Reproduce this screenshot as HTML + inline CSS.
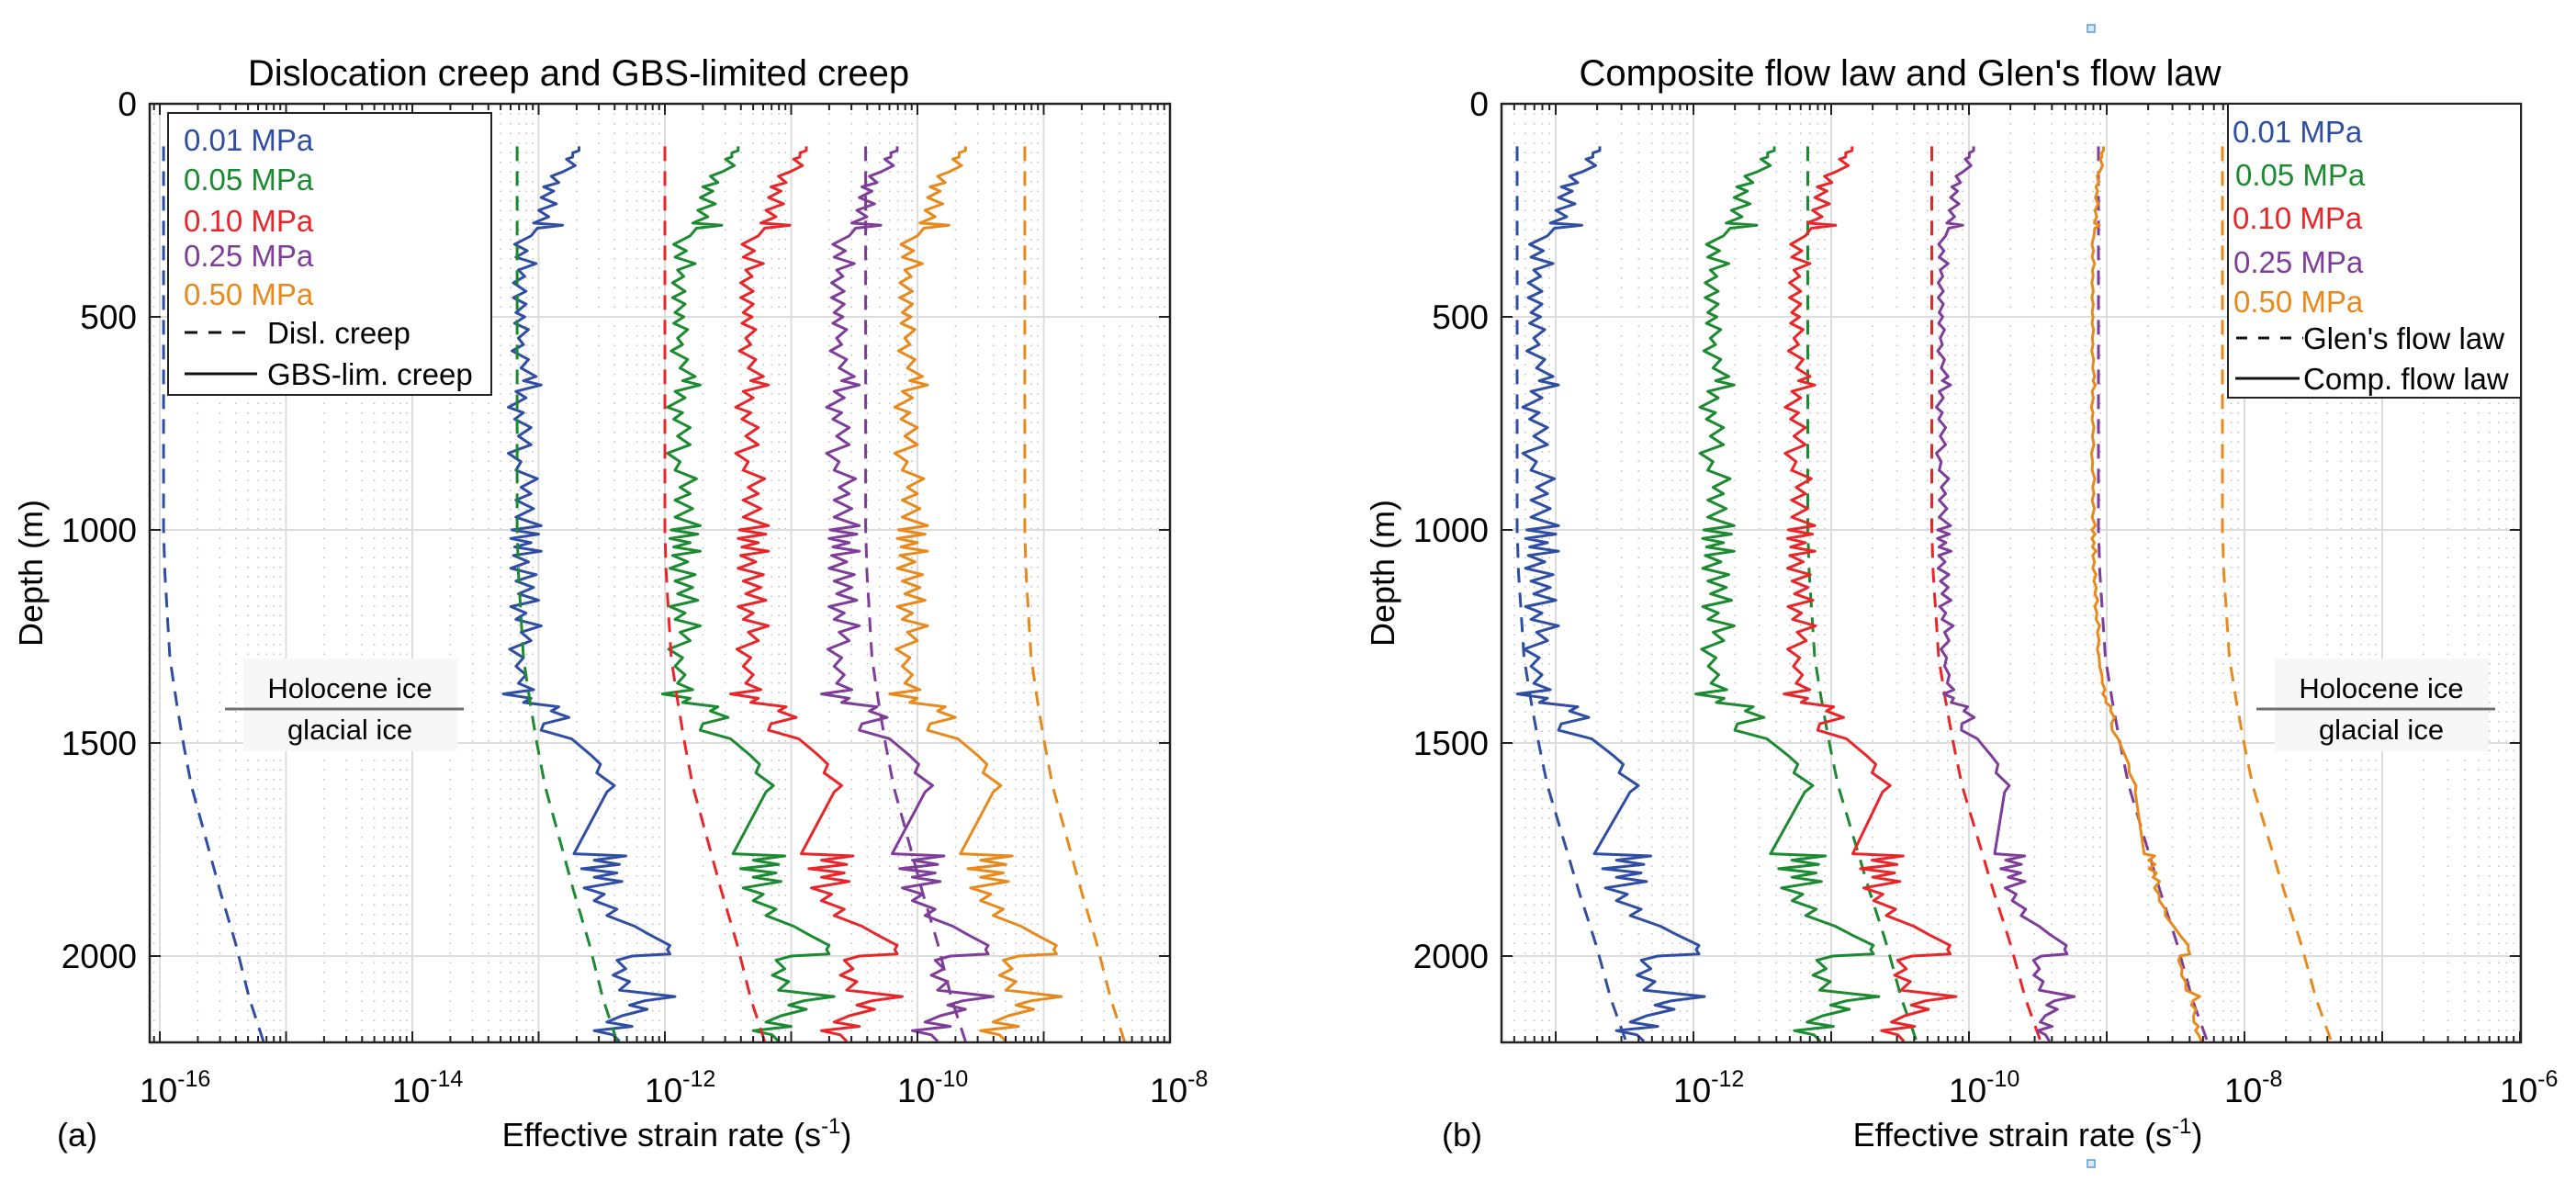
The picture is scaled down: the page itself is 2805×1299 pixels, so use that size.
<!DOCTYPE html>
<html><head><meta charset="utf-8">
<style>
html,body{margin:0;padding:0;background:#fff;}
svg{display:block;font-family:"Liberation Sans",Arial,sans-serif;}
</style></head>
<body>
<svg id="fig" width="2805" height="1299" viewBox="0 0 2805 1299" xmlns="http://www.w3.org/2000/svg">
<defs>
<clipPath id="clipA"><rect x="163" y="113" width="1111" height="1022"/></clipPath>
<clipPath id="clipB"><rect x="1635" y="113" width="1110" height="1022"/></clipPath>
</defs>
<rect x="0" y="0" width="2805" height="1299" fill="#fff"/>
<g id="gridA"></g>
<g id="gridB"></g>
<g id="dataA" clip-path="url(#clipA)"></g>
<g id="dataB" clip-path="url(#clipB)"></g>
<g id="axesA"></g>
<g id="axesB"></g>

<text x="630" y="93" font-size="40" text-anchor="middle">Dislocation creep and GBS-limited creep</text>
<text x="2069" y="93" font-size="40" text-anchor="middle">Composite flow law and Glen's flow law</text>

<text transform="translate(46,624) rotate(-90)" font-size="36" text-anchor="middle">Depth (m)</text>
<text transform="translate(1518,624) rotate(-90)" font-size="36" text-anchor="middle">Depth (m)</text>

<text x="737" y="1248" font-size="36" text-anchor="middle">Effective strain rate (s<tspan dy="-14" font-size="24">-1</tspan><tspan dy="14">)</tspan></text>
<text x="2208" y="1248" font-size="36" text-anchor="middle">Effective strain rate (s<tspan dy="-14" font-size="24">-1</tspan><tspan dy="14">)</tspan></text>
<text x="62" y="1248" font-size="36">(a)</text>
<text x="1570" y="1248" font-size="36">(b)</text>

<g>
<rect x="265" y="717" width="233" height="101" fill="#f7f7f7"/>
<line x1="245" y1="772" x2="505" y2="772" stroke="#707070" stroke-width="3"/>
<text x="381" y="760" font-size="31" text-anchor="middle">Holocene ice</text>
<text x="381" y="805" font-size="31" text-anchor="middle">glacial ice</text>
</g>
<g>
<rect x="2477" y="717" width="233" height="101" fill="#f7f7f7"/>
<line x1="2457" y1="772" x2="2717" y2="772" stroke="#707070" stroke-width="3"/>
<text x="2593" y="760" font-size="31" text-anchor="middle">Holocene ice</text>
<text x="2593" y="805" font-size="31" text-anchor="middle">glacial ice</text>
</g>

<g>
<rect x="183" y="123" width="352" height="307" fill="#fff" stroke="#222" stroke-width="2"/>
<text x="200" y="164" font-size="33" fill="#2e4da3">0.01 MPa</text>
<text x="200" y="207" font-size="33" fill="#1b8a30">0.05 MPa</text>
<text x="200" y="252" font-size="33" fill="#e8262a">0.10 MPa</text>
<text x="200" y="290" font-size="33" fill="#7e3d98">0.25 MPa</text>
<text x="200" y="332" font-size="33" fill="#e8891b">0.50 MPa</text>
<line x1="201" y1="362" x2="278" y2="362" stroke="#111" stroke-width="3" stroke-dasharray="14 12"/>
<text x="291" y="374" font-size="33">Disl. creep</text>
<line x1="201" y1="407" x2="280" y2="407" stroke="#111" stroke-width="3"/>
<text x="291" y="419" font-size="33">GBS-lim. creep</text>
</g>
<g>
<rect x="2426" y="113" width="319" height="320" fill="#fff" stroke="#222" stroke-width="2"/>
<text x="2431" y="155" font-size="33" fill="#2e4da3">0.01 MPa</text>
<text x="2434" y="202" font-size="33" fill="#1b8a30">0.05 MPa</text>
<text x="2431" y="249" font-size="33" fill="#e8262a">0.10 MPa</text>
<text x="2432" y="297" font-size="33" fill="#7e3d98">0.25 MPa</text>
<text x="2432" y="340" font-size="33" fill="#e8891b">0.50 MPa</text>
<line x1="2435" y1="368" x2="2508" y2="368" stroke="#111" stroke-width="3" stroke-dasharray="12 12"/>
<text x="2508" y="380" font-size="33">Glen's flow law</text>
<line x1="2434" y1="412" x2="2504" y2="412" stroke="#111" stroke-width="3"/>
<text x="2508" y="424" font-size="33">Comp. flow law</text>
</g>
<rect x="2273" y="27" width="8" height="8" fill="#dbe9f7" stroke="#5b9bd5" stroke-width="1.5"/>
<rect x="2273" y="1263" width="8" height="8" fill="#dbe9f7" stroke="#5b9bd5" stroke-width="1.5"/>
</svg>
<script>
// ---- data (log10 of effective strain rate, s^-1) ----
const stressLevels = ['0.01 MPa','0.05 MPa','0.10 MPa','0.25 MPa','0.50 MPa'];
const seriesColors = ['#2e4da3','#1b8a30','#e8262a','#7e3d98','#e8891b'];
// GBS-limited creep profile for 0.05 MPa (panel a, green)
const gbsDepth = [100,110,115,125,130,145,160,170,185,195,205,220,235,250,265,280,285,292,310,330,345,360,375,390,405,420,440,455,470,490,500,515,530,550,565,580,600,620,640,650,660,675,690,712,725,740,760,780,800,820,840,860,880,900,915,930,950,970,990,1000,1010,1020,1030,1040,1050,1060,1075,1090,1105,1120,1135,1150,1165,1180,1195,1210,1225,1240,1260,1280,1300,1320,1340,1360,1375,1385,1395,1405,1415,1425,1440,1455,1470,1490,1510,1530,1550,1570,1600,1615,1760,1765,1775,1785,1795,1805,1815,1825,1840,1855,1870,1890,1905,1930,1950,1975,1985,1995,2000,2010,2030,2045,2060,2080,2095,2105,2115,2125,2140,2155,2165,2175,2185,2200];
const gbsBase = [-11.42,-11.42,-11.47,-11.47,-11.52,-11.45,-11.55,-11.64,-11.58,-11.70,-11.62,-11.72,-11.60,-11.74,-11.66,-11.78,-11.55,-11.75,-11.80,-11.93,-11.83,-11.92,-11.76,-11.90,-11.85,-11.94,-11.84,-11.94,-11.84,-11.92,-11.85,-11.93,-11.82,-11.90,-11.86,-11.95,-11.82,-11.88,-11.76,-11.86,-11.72,-11.92,-11.84,-11.98,-11.86,-11.93,-11.80,-11.90,-11.80,-11.98,-11.88,-11.92,-11.75,-11.88,-11.80,-11.92,-11.78,-11.92,-11.72,-11.95,-11.74,-11.96,-11.80,-11.93,-11.72,-11.94,-11.82,-11.96,-11.76,-11.92,-11.78,-11.90,-11.74,-11.96,-11.84,-11.92,-11.72,-11.88,-11.80,-11.97,-11.86,-11.92,-11.84,-11.90,-11.78,-12.02,-11.80,-11.86,-11.58,-11.64,-11.50,-11.70,-11.72,-11.48,-11.40,-11.32,-11.25,-11.28,-11.14,-11.20,-11.46,-11.05,-11.30,-11.10,-11.40,-11.12,-11.30,-11.08,-11.38,-11.22,-11.30,-11.12,-11.20,-10.98,-10.86,-10.70,-10.72,-10.70,-11.00,-11.12,-11.05,-11.15,-11.02,-11.10,-10.66,-10.90,-11.02,-10.88,-11.08,-11.20,-11.00,-11.30,-11.15,-11.10];
const gbsShift = [-1.26,0,0.54,1.26,1.80];
// dislocation creep (panel a) and Glen's law (panel b): value at top + depth trend
const dislTop = [-15.97,-13.17,-12.0,-10.41,-9.15];
const glenTop = [-13.28,-11.17,-10.27,-9.06,-8.16];
const trendDepth = [100,1000,1100,1300,1400,1490,1600,1730,1850,1970,2100,2200];
const trendOffset = [0,0,0.01,0.05,0.10,0.15,0.22,0.34,0.45,0.57,0.68,0.79];
// ticks
const depthTicks = [0,500,1000,1500,2000];
const xTickExpA = [-16,-14,-12,-10,-8];
const xTickExpB = [-12,-10,-8,-6];

// ---- axis functions ----
const yD = d => 113 + d*0.464;
const xA = v => 174 + (v+16)*137.5;
const xB = v => 1844 + (v+12)*150;
const NS='http://www.w3.org/2000/svg';
function mk(tag, attrs, parent){const e=document.createElementNS(NS,tag);for(const k in attrs)e.setAttribute(k,attrs[k]);parent.appendChild(e);return e;}
function trendAt(d){
  for(let i=0;i<trendDepth.length-1;i++){
    if(d<=trendDepth[i+1]){const t=(d-trendDepth[i])/(trendDepth[i+1]-trendDepth[i]);return trendOffset[i]+Math.max(0,t)*(trendOffset[i+1]-trendOffset[i]);}
  }
  return trendOffset[trendOffset.length-1];
}

function drawGrid(gid, aid, xf, x0, x1, decMin, decMax, tickExps){
  const g=document.getElementById(gid), a=document.getElementById(aid);
  const top=113,bot=1135;
  for(let e=decMin;e<=decMax;e++){
    for(let m=1;m<=9;m++){
      const v=e+Math.log10(m), x=xf(v);
      if(x<x0-0.5||x>x1+0.5) continue;
      if(m===1){
        const l=mk('line',{x1:x,y1:top,x2:x,y2:bot,stroke:'#dcdcdc','stroke-width':2},g);
        
        
      } else {
        const l=mk('line',{x1:x,y1:top,x2:x,y2:bot,stroke:'#bdbdbd','stroke-width':1.5,'stroke-dasharray':'1.5 9'},g);
        
        
      }
      const len=m===1?12:7;
      mk('line',{x1:x,y1:bot,x2:x,y2:bot-len,stroke:'#222','stroke-width':2},a);
      mk('line',{x1:x,y1:top,x2:x,y2:top+len,stroke:'#222','stroke-width':2},a);
    }
  }
  depthTicks.forEach(d=>{
    const y=yD(d);
    if(d>0){const l=mk('line',{x1:x0,y1:y,x2:x1,y2:y,stroke:'#dcdcdc','stroke-width':2},g);
      
      }
    mk('line',{x1:x0,y1:y,x2:x0+12,y2:y,stroke:'#222','stroke-width':2},a);
    mk('line',{x1:x1,y1:y,x2:x1-12,y2:y,stroke:'#222','stroke-width':2},a);
    const t=mk('text',{x:x0-14,y:y+13,'font-size':37,'text-anchor':'end'},a);
    t.textContent=d;
    
    
  });
  tickExps.forEach(e=>{
    const x=xf(e);
    const t=mk('text',{x:x-22,y:1200,'font-size':37},a);
    
    
    const s1=document.createElementNS(NS,'tspan');s1.textContent='10';t.appendChild(s1);
    const s2=document.createElementNS(NS,'tspan');s2.setAttribute('dy','-17');s2.setAttribute('font-size','25');s2.textContent=String(e);t.appendChild(s2);
  });
  const fr=mk('rect',{x:x0,y:top,width:x1-x0,height:bot-top,fill:'none',stroke:'#222','stroke-width':2.5},a);
  
  
}
drawGrid('gridA','axesA',xA,163,1274,-17,-8,xTickExpA);
drawGrid('gridB','axesB',xB,1635,2745,-14,-6,xTickExpB);

function pathStr(xf, vals){return gbsDepth.map((d,i)=>(i?'L':'M')+xf(vals[i]).toFixed(1)+','+yD(d).toFixed(1)).join(' ');}
function trendPath(xf, topVal){
  const pts=[];for(let d=100;d<=2200;d+=25)pts.push((pts.length?'L':'M')+xf(topVal+trendAt(d)).toFixed(1)+','+yD(d).toFixed(1));
  return pts.join(' ');
}
const gA=document.getElementById('dataA'), gB=document.getElementById('dataB');
stressLevels.forEach((lab,s)=>{
  const col=seriesColors[s];
  const gbs=gbsBase.map(v=>v+gbsShift[s]);
  const da=mk('path',{d:trendPath(xA,dislTop[s]),fill:'none',stroke:col,'stroke-width':3,'stroke-dasharray':'16 11'},gA);
  
  
  const ga=mk('path',{d:pathStr(xA,gbs),fill:'none',stroke:col,'stroke-width':3,'stroke-linejoin':'round'},gA);
  
  
  const db=mk('path',{d:trendPath(xB,glenTop[s]),fill:'none',stroke:col,'stroke-width':3,'stroke-dasharray':'16 11'},gB);
  
  
  const comp=gbs.map((v,i)=>Math.log10(Math.pow(10,v)+Math.pow(10,dislTop[s]+trendAt(gbsDepth[i]))));
  const cb=mk('path',{d:pathStr(xB,comp),fill:'none',stroke:col,'stroke-width':3,'stroke-linejoin':'round'},gB);
  
  
});
</script>
</body></html>
